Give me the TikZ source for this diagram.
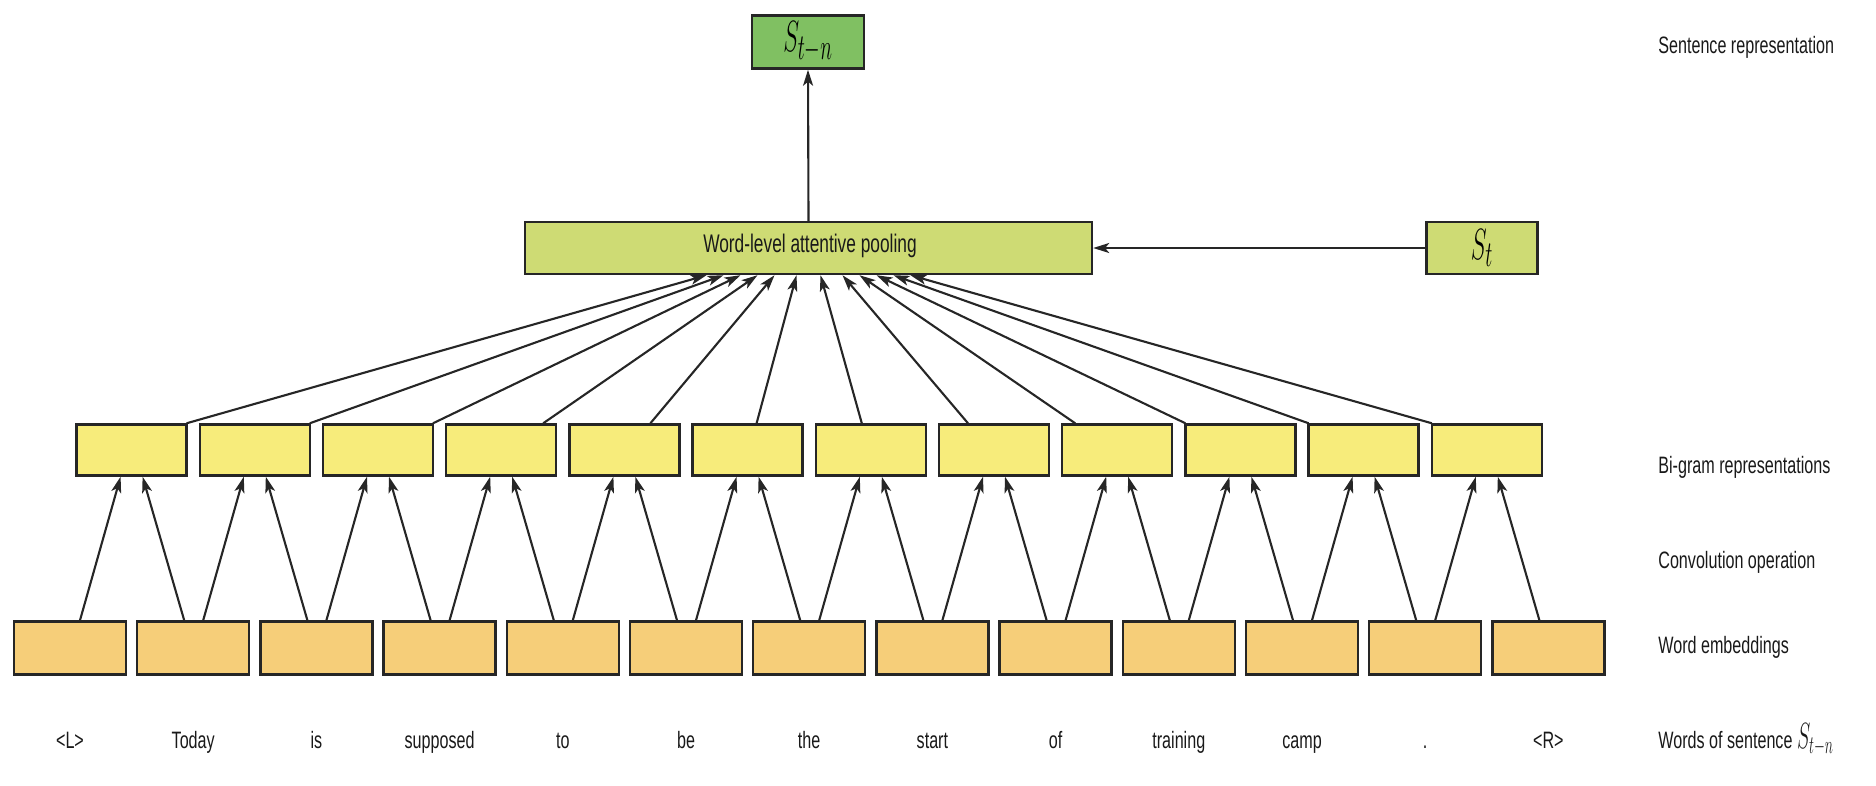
\documentclass[tikz,border=0pt]{standalone}
\usepackage{fontspec}
\newfontfamily\labelfont[FakeStretch=0.68]{Liberation Sans}
\usetikzlibrary{arrows.meta,calc}

\definecolor{sentgreen}{HTML}{80C062}
\definecolor{poolgreen}{HTML}{CEDB74}
\definecolor{bigramyellow}{HTML}{F7EC7B}
\definecolor{embedorange}{HTML}{F6CE79}

\begin{document}
\begin{tikzpicture}[x=0.02cm,y=-0.02cm,
  box/.style={draw=black!85,line width=1.4pt,inner sep=0pt},
  embbox/.style={box,fill=embedorange,minimum width=2.24cm,minimum height=1.06cm},
  bibox/.style={box,fill=bigramyellow,minimum width=2.2cm,minimum height=1.02cm},
  poolbox/.style={box,fill=poolgreen,minimum height=1.04cm},
  sentbox/.style={box,fill=sentgreen,minimum width=2.24cm,minimum height=1.06cm},
  link/.style={draw=black!85,line width=1.2pt,-{Stealth[length=3.2mm,width=2mm,inset=0.8mm]}},
  txt/.style={font=\labelfont\fontsize{13.5}{15}\selectfont,text=black!90,inner sep=0pt},
  sym/.style={inner sep=0pt,text=black!90}
]
\useasboundingbox (0,0) rectangle (1876,785);

% word embeddings and bi-gram boxes
\foreach \i in {0,...,12}
  \node[embbox] (e\i) at ({70+123.2*\i},648) {};
\foreach \i in {0,...,11}
  \node[bibox] (b\i) at ({131.6+123.2*\i},450) {};

% pooling, context and sentence boxes
\node[poolbox,minimum width=11.34cm] (att) at (808.5,248) {};
\node[txt,font=\labelfont\fontsize{14.5}{16}\selectfont] (attlabel) at (810,246) {Word-level attentive pooling};
\node[sentbox] (top) at (808,42) {\scalebox{0.55}[1]{\Huge$S_{t-n}$}};
\node[poolbox,minimum width=2.22cm] (st) at (1482,248) {\scalebox{0.55}[1]{\Huge$S_t$}};

% convolution: two neighbouring embeddings feed each bi-gram
\foreach \i in {0,...,11} {
  \pgfmathtruncatemacro{\j}{\i+1}
  \draw[link] ($(e\i.north)+(10,0)$) -- ($(b\i.south)+(-11,0)$);
  \draw[link] ($(e\j.north)+(-9,0)$) -- ($(b\i.south)+(11,0)$);
}

% attentive pooling inputs
\foreach \i/\s/\t in {0/55/-102, 1/55/-85, 2/55/-68, 3/42/-51, 4/26/-34, 5/9/-12,
                      6/-9/12, 7/-26/34, 8/-42/51, 9/-55/68, 10/-55/85, 11/-55/102}
  \draw[link] ($(b\i.north)+(\s,0)$) -- ($(att.south)+(\t,0)$);

\draw[link] (st.west) -- (att.east);
\draw[link] (att.north) -- (top.south);

% words of the sentence
\foreach \w [count=\k from 0] in {<L>,Today,is,supposed,to,be,the,start,of,training,camp,.,<R>}
  \node[txt,anchor=base] (w\k) at ({70+123.2*\k},748) {\w};

% layer captions
\node[txt,anchor=base west] (c1) at (1658,53) {Sentence representation};
\node[txt,anchor=base west] (c2) at (1658,473) {Bi-gram representations};
\node[txt,anchor=base west] (c3) at (1658,568) {Convolution operation};
\node[txt,anchor=base west] (c4) at (1658,653) {Word embeddings};
\node[txt,anchor=base west] (c5) at (1658,748) {Words of sentence \scalebox{0.55}[1]{\huge$S_{t-n}$}};
\end{tikzpicture}
\end{document}
